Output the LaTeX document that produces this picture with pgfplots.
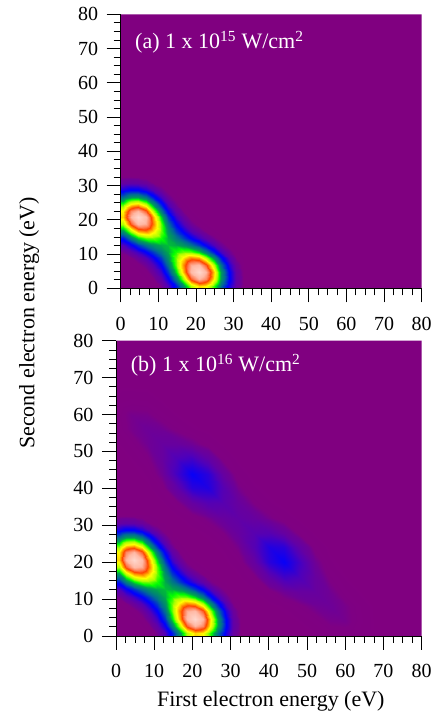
\documentclass[border=0pt]{standalone}
\usepackage{fontspec}
\setmainfont{Liberation Serif}
\usepackage{pgfplots}
\usepackage{pgfplotstable}
\pgfplotsset{compat=1.18}
\definecolor{bgpurple}{RGB}{128,0,128}
\pgfplotsset{colormap={hhg}{rgb255(0pt)=(128,0,128) rgb255(12pt)=(126,0,131) rgb255(20pt)=(110,0,150) rgb255(35pt)=(98,0,165) rgb255(55pt)=(80,0,185) rgb255(80pt)=(45,0,215) rgb255(105pt)=(10,0,245) rgb255(120pt)=(0,0,255) rgb255(220pt)=(0,105,150) rgb255(320pt)=(0,165,75) rgb255(380pt)=(0,255,0) rgb255(460pt)=(170,255,0) rgb255(550pt)=(255,255,0) rgb255(630pt)=(255,160,0) rgb255(710pt)=(255,70,0) rgb255(790pt)=(255,130,90) rgb255(880pt)=(255,185,165) rgb255(1000pt)=(255,215,205)}}

% bright low-energy peaks (same in both panels)
\pgfplotstableread[row sep=\\]{
x y z\\
0 0 0\\ 0.7 0 0\\ 2.7 0 0\\ 4.7 0 0\\ 6.7 0 0\\ 8.7 0 0.004\\ 10.7 0 0.017\\ 12.7 0 0.054\\ 14.7 0 0.140\\ 16.7 0 0.292\\ 18.7 0 0.472\\ 20.7 0 0.585\\ 22.7 0 0.554\\ 24.7 0 0.401\\ 26.7 0 0.222\\ 28.7 0 0.094\\ 30.7 0 0.031\\ 32.7 0 0.008\\
0 0.7 0\\ 0.7 0.7 0\\ 2.7 0.7 0\\ 4.7 0.7 0\\ 6.7 0.7 0\\ 8.7 0.7 0.004\\ 10.7 0.7 0.017\\ 12.7 0.7 0.054\\ 14.7 0.7 0.140\\ 16.7 0.7 0.292\\ 18.7 0.7 0.472\\ 20.7 0.7 0.585\\ 22.7 0.7 0.554\\ 24.7 0.7 0.401\\ 26.7 0.7 0.222\\ 28.7 0.7 0.094\\ 30.7 0.7 0.031\\ 32.7 0.7 0.008\\
0 2.7 0\\ 0.7 2.7 0\\ 2.7 2.7 0\\ 4.7 2.7 0\\ 6.7 2.7 0.003\\ 8.7 2.7 0.011\\ 10.7 2.7 0.037\\ 12.7 2.7 0.105\\ 14.7 2.7 0.250\\ 16.7 2.7 0.481\\ 18.7 2.7 0.735\\ 20.7 2.7 0.874\\ 22.7 2.7 0.796\\ 24.7 2.7 0.554\\ 26.7 2.7 0.295\\ 28.7 2.7 0.120\\ 30.7 2.7 0.037\\ 32.7 2.7 0.009\\
0 4.7 0\\ 0.7 4.7 0\\ 2.7 4.7 0\\ 4.7 4.7 0.002\\ 6.7 4.7 0.008\\ 8.7 4.7 0.025\\ 10.7 4.7 0.068\\ 12.7 4.7 0.170\\ 14.7 4.7 0.360\\ 16.7 4.7 0.630\\ 18.7 4.7 0.890\\ 20.7 4.7 1.000\\ 22.7 4.7 0.874\\ 24.7 4.7 0.585\\ 26.7 4.7 0.299\\ 28.7 4.7 0.117\\ 30.7 4.7 0.035\\ 32.7 4.7 0.008\\
0 6.7 0\\ 0.7 6.7 0\\ 2.7 6.7 0.003\\ 4.7 6.7 0.008\\ 6.7 6.7 0.021\\ 8.7 6.7 0.051\\ 10.7 6.7 0.114\\ 12.7 6.7 0.234\\ 14.7 6.7 0.427\\ 16.7 6.7 0.666\\ 18.7 6.7 0.857\\ 20.7 6.7 0.890\\ 22.7 6.7 0.735\\ 24.7 6.7 0.472\\ 26.7 6.7 0.232\\ 28.7 6.7 0.087\\ 30.7 6.7 0.025\\ 32.7 6.7 0.006\\
0 8.7 0.004\\ 0.7 8.7 0.004\\ 2.7 8.7 0.011\\ 4.7 8.7 0.025\\ 6.7 8.7 0.051\\ 8.7 8.7 0.098\\ 10.7 8.7 0.175\\ 12.7 8.7 0.288\\ 14.7 8.7 0.433\\ 16.7 8.7 0.581\\ 18.7 8.7 0.666\\ 20.7 8.7 0.630\\ 22.7 8.7 0.481\\ 24.7 8.7 0.292\\ 26.7 8.7 0.138\\ 28.7 8.7 0.050\\ 30.7 8.7 0.014\\ 32.7 8.7 0.003\\
0 10.7 0.017\\ 0.7 10.7 0.017\\ 2.7 10.7 0.037\\ 4.7 10.7 0.068\\ 6.7 10.7 0.114\\ 8.7 10.7 0.175\\ 10.7 10.7 0.247\\ 12.7 10.7 0.324\\ 14.7 10.7 0.392\\ 16.7 10.7 0.433\\ 18.7 10.7 0.427\\ 20.7 10.7 0.360\\ 22.7 10.7 0.250\\ 24.7 10.7 0.140\\ 26.7 10.7 0.063\\ 28.7 10.7 0.022\\ 30.7 10.7 0.006\\ 32.7 10.7 0\\
0 12.7 0.054\\ 0.7 12.7 0.054\\ 2.7 12.7 0.105\\ 4.7 12.7 0.170\\ 6.7 12.7 0.234\\ 8.7 12.7 0.288\\ 10.7 12.7 0.324\\ 12.7 12.7 0.336\\ 14.7 12.7 0.324\\ 16.7 12.7 0.288\\ 18.7 12.7 0.234\\ 20.7 12.7 0.170\\ 22.7 12.7 0.105\\ 24.7 12.7 0.054\\ 26.7 12.7 0.022\\ 28.7 12.7 0.007\\ 30.7 12.7 0.002\\ 32.7 12.7 nan\\
0 14.7 0.140\\ 0.7 14.7 0.140\\ 2.7 14.7 0.250\\ 4.7 14.7 0.360\\ 6.7 14.7 0.427\\ 8.7 14.7 0.433\\ 10.7 14.7 0.392\\ 12.7 14.7 0.324\\ 14.7 14.7 0.247\\ 16.7 14.7 0.175\\ 18.7 14.7 0.114\\ 20.7 14.7 0.068\\ 22.7 14.7 0.037\\ 24.7 14.7 0.017\\ 26.7 14.7 0.006\\ 28.7 14.7 0.002\\ 30.7 14.7 nan\\ 32.7 14.7 nan\\
0 16.7 0.292\\ 0.7 16.7 0.292\\ 2.7 16.7 0.481\\ 4.7 16.7 0.630\\ 6.7 16.7 0.666\\ 8.7 16.7 0.581\\ 10.7 16.7 0.433\\ 12.7 16.7 0.288\\ 14.7 16.7 0.175\\ 16.7 16.7 0.098\\ 18.7 16.7 0.051\\ 20.7 16.7 0.025\\ 22.7 16.7 0.011\\ 24.7 16.7 0.004\\ 26.7 16.7 0\\ 28.7 16.7 nan\\ 30.7 16.7 nan\\ 32.7 16.7 nan\\
0 18.7 0.472\\ 0.7 18.7 0.472\\ 2.7 18.7 0.735\\ 4.7 18.7 0.890\\ 6.7 18.7 0.857\\ 8.7 18.7 0.666\\ 10.7 18.7 0.427\\ 12.7 18.7 0.234\\ 14.7 18.7 0.114\\ 16.7 18.7 0.051\\ 18.7 18.7 0.021\\ 20.7 18.7 0.008\\ 22.7 18.7 0.003\\ 24.7 18.7 0\\ 26.7 18.7 nan\\ 28.7 18.7 nan\\ 30.7 18.7 nan\\ 32.7 18.7 nan\\
0 20.7 0.585\\ 0.7 20.7 0.585\\ 2.7 20.7 0.874\\ 4.7 20.7 1.000\\ 6.7 20.7 0.890\\ 8.7 20.7 0.630\\ 10.7 20.7 0.360\\ 12.7 20.7 0.170\\ 14.7 20.7 0.068\\ 16.7 20.7 0.025\\ 18.7 20.7 0.008\\ 20.7 20.7 0.002\\ 22.7 20.7 0\\ 24.7 20.7 nan\\ 26.7 20.7 nan\\ 28.7 20.7 nan\\ 30.7 20.7 nan\\ 32.7 20.7 nan\\
0 22.7 0.554\\ 0.7 22.7 0.554\\ 2.7 22.7 0.796\\ 4.7 22.7 0.874\\ 6.7 22.7 0.735\\ 8.7 22.7 0.481\\ 10.7 22.7 0.250\\ 12.7 22.7 0.105\\ 14.7 22.7 0.037\\ 16.7 22.7 0.011\\ 18.7 22.7 0.003\\ 20.7 22.7 0\\ 22.7 22.7 nan\\ 24.7 22.7 nan\\ 26.7 22.7 nan\\ 28.7 22.7 nan\\ 30.7 22.7 nan\\ 32.7 22.7 nan\\
0 24.7 0.401\\ 0.7 24.7 0.401\\ 2.7 24.7 0.554\\ 4.7 24.7 0.585\\ 6.7 24.7 0.472\\ 8.7 24.7 0.292\\ 10.7 24.7 0.140\\ 12.7 24.7 0.054\\ 14.7 24.7 0.017\\ 16.7 24.7 0.004\\ 18.7 24.7 0\\ 20.7 24.7 nan\\ 22.7 24.7 nan\\ 24.7 24.7 nan\\ 26.7 24.7 nan\\ 28.7 24.7 nan\\ 30.7 24.7 nan\\ 32.7 24.7 nan\\
0 26.7 0.222\\ 0.7 26.7 0.222\\ 2.7 26.7 0.295\\ 4.7 26.7 0.299\\ 6.7 26.7 0.232\\ 8.7 26.7 0.138\\ 10.7 26.7 0.063\\ 12.7 26.7 0.022\\ 14.7 26.7 0.006\\ 16.7 26.7 0\\ 18.7 26.7 nan\\ 20.7 26.7 nan\\ 22.7 26.7 nan\\ 24.7 26.7 nan\\ 26.7 26.7 nan\\ 28.7 26.7 nan\\ 30.7 26.7 nan\\ 32.7 26.7 nan\\
0 28.7 0.094\\ 0.7 28.7 0.094\\ 2.7 28.7 0.120\\ 4.7 28.7 0.117\\ 6.7 28.7 0.087\\ 8.7 28.7 0.050\\ 10.7 28.7 0.022\\ 12.7 28.7 0.007\\ 14.7 28.7 0.002\\ 16.7 28.7 nan\\ 18.7 28.7 nan\\ 20.7 28.7 nan\\ 22.7 28.7 nan\\ 24.7 28.7 nan\\ 26.7 28.7 nan\\ 28.7 28.7 nan\\ 30.7 28.7 nan\\ 32.7 28.7 nan\\
0 30.7 0.031\\ 0.7 30.7 0.031\\ 2.7 30.7 0.037\\ 4.7 30.7 0.035\\ 6.7 30.7 0.025\\ 8.7 30.7 0.014\\ 10.7 30.7 0.006\\ 12.7 30.7 0.002\\ 14.7 30.7 nan\\ 16.7 30.7 nan\\ 18.7 30.7 nan\\ 20.7 30.7 nan\\ 22.7 30.7 nan\\ 24.7 30.7 nan\\ 26.7 30.7 nan\\ 28.7 30.7 nan\\ 30.7 30.7 nan\\ 32.7 30.7 nan\\
0 32.7 0.008\\ 0.7 32.7 0.008\\ 2.7 32.7 0.009\\ 4.7 32.7 0.008\\ 6.7 32.7 0.006\\ 8.7 32.7 0.003\\ 10.7 32.7 0\\ 12.7 32.7 nan\\ 14.7 32.7 nan\\ 16.7 32.7 nan\\ 18.7 32.7 nan\\ 20.7 32.7 nan\\ 22.7 32.7 nan\\ 24.7 32.7 nan\\ 26.7 32.7 nan\\ 28.7 32.7 nan\\ 30.7 32.7 nan\\ 32.7 32.7 nan\\
}\brighttab

% faint high-energy band (panel b)
\pgfplotstableread[row sep=\\]{
x y z\\
0 0 0\\ 4 0 0\\ 8 0 0\\ 12 0 0\\ 16 0 0\\ 20 0 0\\ 24 0 0\\ 28 0 0\\ 32 0 0\\ 36 0 0\\ 40 0 0\\ 44 0 0\\ 48 0 0.0003\\ 52 0 0.0018\\ 56 0 0.0055\\ 60 0 0.0067\\ 64 0 0.0033\\ 68 0 0.0008\\
0 4 0\\ 4 4 0\\ 8 4 0\\ 12 4 0\\ 16 4 0\\ 20 4 0\\ 24 4 0\\ 28 4 0\\ 32 4 0\\ 36 4 0\\ 40 4 0\\ 44 4 0.0004\\ 48 4 0.0022\\ 52 4 0.0072\\ 56 4 0.0152\\ 60 4 0.0160\\ 64 4 0.0067\\ 68 4 0.0011\\
0 8 0\\ 4 8 0\\ 8 8 0\\ 12 8 0\\ 16 8 0\\ 20 8 0\\ 24 8 0\\ 28 8 0\\ 32 8 0\\ 36 8 0\\ 40 8 0.0008\\ 44 8 0.0034\\ 48 8 0.0098\\ 52 8 0.0185\\ 56 8 0.0209\\ 60 8 0.0152\\ 64 8 0.0055\\ 68 8 0.0008\\
0 12 0\\ 4 12 0\\ 8 12 0\\ 12 12 0\\ 16 12 0\\ 20 12 0\\ 24 12 0\\ 28 12 0\\ 32 12 0\\ 36 12 0.0015\\ 40 12 0.0078\\ 44 12 0.0197\\ 48 12 0.0286\\ 52 12 0.0286\\ 56 12 0.0185\\ 60 12 0.0072\\ 64 12 0.0018\\ 68 12 0.0002\\
0 16 0\\ 4 16 0\\ 8 16 0\\ 12 16 0\\ 16 16 0\\ 20 16 0\\ 24 16 0\\ 28 16 0\\ 32 16 0.0012\\ 36 16 0.0097\\ 40 16 0.0367\\ 44 16 0.0657\\ 48 16 0.0572\\ 52 16 0.0286\\ 56 16 0.0098\\ 60 16 0.0022\\ 64 16 0.0003\\ 68 16 0\\
0 20 0\\ 4 20 0\\ 8 20 0\\ 12 20 0\\ 16 20 0\\ 20 20 0\\ 24 20 0\\ 28 20 0.0006\\ 32 20 0.0058\\ 36 20 0.0303\\ 40 20 0.0817\\ 44 20 0.1067\\ 48 20 0.0657\\ 52 20 0.0197\\ 56 20 0.0034\\ 60 20 0.0004\\ 64 20 0\\ 68 20 0\\
0 24 0\\ 4 24 0\\ 8 24 0\\ 12 24 0\\ 16 24 0\\ 20 24 0\\ 24 24 0.0005\\ 28 24 0.0034\\ 32 24 0.0159\\ 36 24 0.0489\\ 40 24 0.0880\\ 44 24 0.0817\\ 48 24 0.0367\\ 52 24 0.0078\\ 56 24 0.0008\\ 60 24 0\\ 64 24 0\\ 68 24 0\\
0 28 0\\ 4 28 0\\ 8 28 0\\ 12 28 0\\ 16 28 0\\ 20 28 0.0006\\ 24 28 0.0034\\ 28 28 0.0121\\ 32 28 0.0286\\ 36 28 0.0462\\ 40 28 0.0489\\ 44 28 0.0303\\ 48 28 0.0097\\ 52 28 0.0015\\ 56 28 0\\ 60 28 0\\ 64 28 0\\ 68 28 0\\
0 32 0\\ 4 32 0\\ 8 32 0\\ 12 32 0\\ 16 32 0.0012\\ 20 32 0.0058\\ 24 32 0.0159\\ 28 32 0.0286\\ 32 32 0.0352\\ 36 32 0.0286\\ 40 32 0.0159\\ 44 32 0.0058\\ 48 32 0.0012\\ 52 32 0\\ 56 32 0\\ 60 32 0\\ 64 32 0\\ 68 32 0\\
0 36 0\\ 4 36 0\\ 8 36 0\\ 12 36 0.0015\\ 16 36 0.0097\\ 20 36 0.0303\\ 24 36 0.0489\\ 28 36 0.0462\\ 32 36 0.0286\\ 36 36 0.0121\\ 40 36 0.0034\\ 44 36 0.0006\\ 48 36 0\\ 52 36 0\\ 56 36 0\\ 60 36 0\\ 64 36 0\\ 68 36 0\\
0 40 0\\ 4 40 0\\ 8 40 0.0008\\ 12 40 0.0078\\ 16 40 0.0367\\ 20 40 0.0817\\ 24 40 0.0880\\ 28 40 0.0489\\ 32 40 0.0159\\ 36 40 0.0034\\ 40 40 0.0005\\ 44 40 0\\ 48 40 0\\ 52 40 0\\ 56 40 0\\ 60 40 0\\ 64 40 0\\ 68 40 0\\
0 44 0\\ 4 44 0.0004\\ 8 44 0.0034\\ 12 44 0.0197\\ 16 44 0.0657\\ 20 44 0.1067\\ 24 44 0.0817\\ 28 44 0.0303\\ 32 44 0.0058\\ 36 44 0.0006\\ 40 44 0\\ 44 44 0\\ 48 44 0\\ 52 44 0\\ 56 44 0\\ 60 44 0\\ 64 44 0\\ 68 44 0\\
0 48 0.0003\\ 4 48 0.0022\\ 8 48 0.0098\\ 12 48 0.0286\\ 16 48 0.0572\\ 20 48 0.0657\\ 24 48 0.0367\\ 28 48 0.0097\\ 32 48 0.0012\\ 36 48 0\\ 40 48 0\\ 44 48 0\\ 48 48 0\\ 52 48 0\\ 56 48 0\\ 60 48 0\\ 64 48 0\\ 68 48 0\\
0 52 0.0018\\ 4 52 0.0072\\ 8 52 0.0185\\ 12 52 0.0286\\ 16 52 0.0286\\ 20 52 0.0197\\ 24 52 0.0078\\ 28 52 0.0015\\ 32 52 0\\ 36 52 0\\ 40 52 0\\ 44 52 0\\ 48 52 0\\ 52 52 0\\ 56 52 0\\ 60 52 0\\ 64 52 0\\ 68 52 0\\
0 56 0.0055\\ 4 56 0.0152\\ 8 56 0.0209\\ 12 56 0.0185\\ 16 56 0.0098\\ 20 56 0.0034\\ 24 56 0.0008\\ 28 56 0\\ 32 56 0\\ 36 56 0\\ 40 56 0\\ 44 56 0\\ 48 56 0\\ 52 56 0\\ 56 56 0\\ 60 56 0\\ 64 56 0\\ 68 56 0\\
0 60 0.0067\\ 4 60 0.0160\\ 8 60 0.0152\\ 12 60 0.0072\\ 16 60 0.0022\\ 20 60 0.0004\\ 24 60 0\\ 28 60 0\\ 32 60 0\\ 36 60 0\\ 40 60 0\\ 44 60 0\\ 48 60 0\\ 52 60 0\\ 56 60 0\\ 60 60 0\\ 64 60 0\\ 68 60 0\\
0 64 0.0033\\ 4 64 0.0067\\ 8 64 0.0055\\ 12 64 0.0018\\ 16 64 0.0003\\ 20 64 0\\ 24 64 0\\ 28 64 0\\ 32 64 0\\ 36 64 0\\ 40 64 0\\ 44 64 0\\ 48 64 0\\ 52 64 0\\ 56 64 0\\ 60 64 0\\ 64 64 0\\ 68 64 0\\
0 68 0.0008\\ 4 68 0.0011\\ 8 68 0.0008\\ 12 68 0.0002\\ 16 68 0\\ 20 68 0\\ 24 68 0\\ 28 68 0\\ 32 68 0\\ 36 68 0\\ 40 68 0\\ 44 68 0\\ 48 68 0\\ 52 68 0\\ 56 68 0\\ 60 68 0\\ 64 68 0\\ 68 68 0\\
}\fainttab

\pgfplotsset{panel/.style={
  view={0}{90}, scale only axis, anchor=south west,
  xmin=0, xmax=80, ymin=0, ymax=80,
  xtick={0,10,...,80}, ytick={0,10,...,80}, minor tick num=3,
  tick align=outside, major tick length=14pt, minor tick length=7pt,
  axis x line*=bottom, axis y line*=left, hide z axis, ztick=\empty,
  axis line style={-, line width=0.8pt, black},
  tick style={black, line width=0.8pt},
  axis on top,
  axis background/.style={fill=bgpurple},
  colormap name=hhg, point meta min=0, point meta max=1,
  unbounded coords=jump,
  ticklabel style={font=\fontsize{20}{22}\selectfont},
  xticklabel shift=11pt, yticklabel shift=5pt,
  /pgf/number format/assume math mode=true,
}}

\begin{document}
\begin{tikzpicture}
\useasboundingbox (0pt,0pt) rectangle (438pt,717pt);
\begin{axis}[panel, at={(120.7pt,428.7pt)}, width=301pt, height=274pt]
  \addplot3[surf, shader=interp, mesh/cols=18] table {\brighttab};
  \node[anchor=base west, text=white, font=\fontsize{22}{24}\selectfont, inner sep=0pt] at (axis cs:3.8,70,1) {(a) 1 x 10\textsuperscript{15} W/cm\textsuperscript{2}};
\end{axis}
\begin{axis}[panel, at={(116pt,81pt)}, width=305.7pt, height=295.3pt]
  \addplot3[surf, shader=interp, mesh/cols=18] table {\fainttab};
  \addplot3[surf, shader=interp, mesh/cols=18] table {\brighttab};
  \node[anchor=base west, text=white, font=\fontsize{22}{24}\selectfont, inner sep=0pt] at (axis cs:3.85,71.6,1) {(b) 1 x 10\textsuperscript{16} W/cm\textsuperscript{2}};
\end{axis}
\node[rotate=90, font=\fontsize{22}{24}\selectfont] at (29pt,394pt) {Second electron energy (eV)};
\node[anchor=base, font=\fontsize{22}{24}\selectfont] at (270.8pt,10pt) {First electron energy (eV)};
\end{tikzpicture}
\end{document}
